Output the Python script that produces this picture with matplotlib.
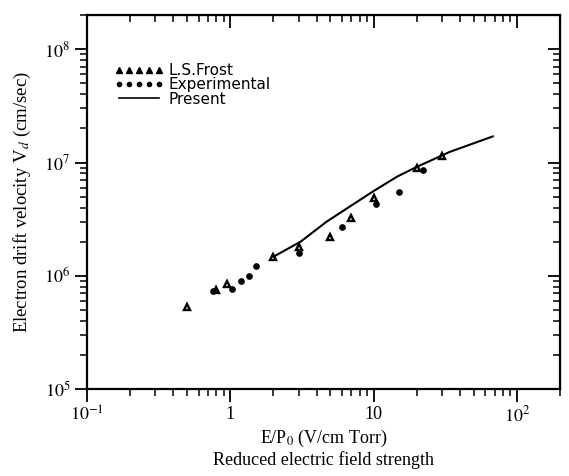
import numpy as np
import matplotlib.pyplot as plt
from matplotlib.lines import Line2D
from matplotlib.ticker import FixedLocator, LogLocator, NullFormatter

plt.rcParams['mathtext.fontset'] = 'stix'
plt.rcParams['font.family'] = 'Liberation Serif'

# L.S.Frost drift velocities
frost_ep = [0.5, 0.79, 0.95, 2.0, 3.0, 5.0, 7.0, 10.0, 20.0, 30.0]
frost_vd = [5.3e5, 7.4e5, 8.4e5, 1.47e6, 1.8e6, 2.2e6, 3.25e6, 4.9e6, 9.0e6, 1.13e7]

# experimental drift velocities
exp_ep = [0.76, 1.03, 1.19, 1.36, 1.51, 3.0, 6.0, 10.4, 15.0, 22.0]
exp_vd = [7.3e5, 7.6e5, 8.9e5, 1.0e6, 1.22e6, 1.6e6, 2.7e6, 4.3e6, 5.5e6, 8.5e6]

# present calculation
calc_ep = [2.0, 3.1, 4.7, 9.8, 14.6, 19.5, 34.0, 68.0]
calc_vd = [1.47e6, 2.0e6, 3.0e6, 5.5e6, 7.5e6, 9.0e6, 1.24e7, 1.7e7]

x_ticks = [0.1, 1, 10, 100]
x_tick_labels = [r'$10^{-1}$', '1', '10', r'$10^{2}$']
y_ticks = [1e5, 1e6, 1e7, 1e8]
y_tick_labels = [r'$10^{5}$', r'$10^{6}$', r'$10^{7}$', r'$10^{8}$']

fig = plt.figure(figsize=(5.69, 4.76), dpi=100)
ax = fig.add_axes([0.153, 0.183, 0.831, 0.785])

ax.plot(frost_ep, frost_vd, linestyle='none', marker='^', markersize=4.8,
        markerfacecolor='white', markeredgecolor='black', markeredgewidth=1.7)
ax.plot(exp_ep, exp_vd, linestyle='none', marker='o', markersize=3.8, color='black')
ax.plot(calc_ep, calc_vd, color='black', linewidth=1.5)

ax.set_xscale('log')
ax.set_yscale('log')
ax.set_xlim(0.1, 200)
ax.set_ylim(1e5, 2e8)

minor_subs = np.arange(2, 10)
ax.xaxis.set_major_locator(FixedLocator(x_ticks))
ax.set_xticklabels(x_tick_labels)
ax.yaxis.set_major_locator(FixedLocator(y_ticks))
ax.set_yticklabels(y_tick_labels)
ax.xaxis.set_minor_locator(LogLocator(base=10, subs=minor_subs))
ax.yaxis.set_minor_locator(LogLocator(base=10, subs=minor_subs))
ax.xaxis.set_minor_formatter(NullFormatter())
ax.yaxis.set_minor_formatter(NullFormatter())

ax.tick_params(which='major', direction='out', length=9, width=1.3, labelsize=13, pad=3)
ax.tick_params(which='minor', direction='out', length=5, width=1.1)

# inward ticks on the top and right sides
top = ax.secondary_xaxis('top')
top.xaxis.set_major_locator(FixedLocator(x_ticks))
top.xaxis.set_minor_locator(LogLocator(base=10, subs=minor_subs))
top.xaxis.set_major_formatter(NullFormatter())
top.xaxis.set_minor_formatter(NullFormatter())
right = ax.secondary_yaxis('right')
right.yaxis.set_major_locator(FixedLocator(y_ticks))
right.yaxis.set_minor_locator(LogLocator(base=10, subs=minor_subs))
right.yaxis.set_major_formatter(NullFormatter())
right.yaxis.set_minor_formatter(NullFormatter())
for sec in (top, right):
    sec.tick_params(which='major', direction='in', length=9, width=1.3)
    sec.tick_params(which='minor', direction='in', length=5, width=1.1)

for spine in ax.spines.values():
    spine.set_linewidth(1.6)

ax.set_xlabel('E/P$_0$ (V/cm Torr)\nReduced electric field strength', fontsize=13, labelpad=2,
              linespacing=1.1)
ax.set_ylabel('Electron drift velocity V$_d$ (cm/sec)', fontsize=13.5, labelpad=8)

handles = [
    Line2D([], [], linestyle='none', marker='^', markersize=4.5, color='black'),
    Line2D([], [], linestyle='none', marker='o', markersize=3.0, color='black'),
    Line2D([], [], color='black', linewidth=1.2),
]
labels = ['L.S.Frost', 'Experimental', 'Present']
ax.legend(handles, labels, loc='upper left', bbox_to_anchor=(0.045, 0.888), numpoints=5,
          frameon=False, handlelength=3.2, handletextpad=0.35, labelspacing=-0.05,
          borderaxespad=0, prop={'family': 'DejaVu Sans', 'size': 11})

fig.savefig('out.png', dpi=100)
